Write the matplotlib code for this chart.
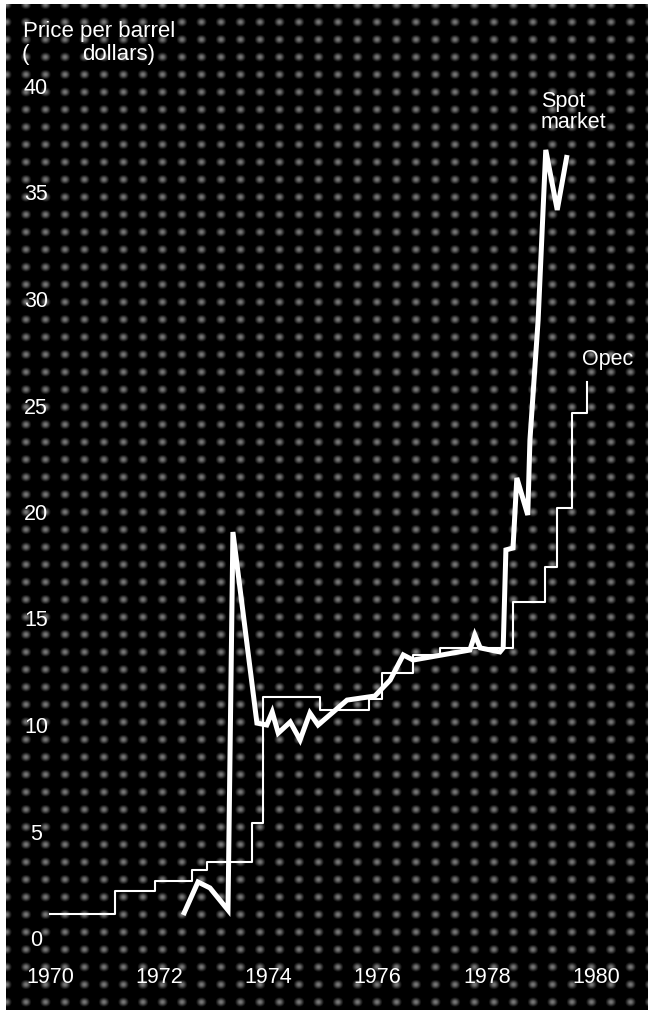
import numpy as np
import matplotlib
matplotlib.use("Agg")
import matplotlib.pyplot as plt

# ---- data ----
opec_years = [1970.0, 1971.19, 1971.92, 1972.60, 1972.88, 1973.70, 1973.90,
              1974.95, 1975.85, 1976.08, 1976.65, 1977.14, 1978.48, 1979.07,
              1979.29, 1979.56, 1979.84]
opec_price = [1.13, 2.21, 2.68, 3.19, 3.57, 5.40, 11.31,
              10.7, 11.2, 12.44, 13.3, 13.6, 15.77, 17.4,
              20.19, 24.65, 26.1]

spot_years = [1972.44, 1972.71, 1972.93, 1973.26, 1973.35, 1973.79, 1973.97,
              1974.07, 1974.18, 1974.40, 1974.58, 1974.76, 1974.91, 1975.44,
              1975.95, 1976.23, 1976.47, 1976.65, 1977.69, 1977.78, 1977.88,
              1978.24, 1978.30, 1978.35, 1978.48, 1978.55, 1978.75, 1978.79,
              1978.94, 1979.08, 1979.29, 1979.47]
spot_price = [1.08, 2.63, 2.35, 1.31, 19.06, 10.09, 10.0,
              10.61, 9.62, 10.14, 9.30, 10.56, 10.0, 11.17,
              11.36, 12.11, 13.29, 13.05, 13.52, 14.23, 13.62,
              13.43, 13.62, 18.22, 18.31, 21.6, 19.86, 23.38,
              29.01, 37.0, 34.18, 36.76]

x_ticks = [1970, 1972, 1974, 1976, 1978, 1980]
x_tick_labels = ["1970", "1972", "1974", "1976", "1978", "1980"]
y_ticks = [0, 5, 10, 15, 20, 25, 30, 35, 40]
y_tick_labels = ["0", "5", "10", "15", "20", "25", "30", "35", "40"]

FONT = ["Liberation Sans", "DejaVu Sans"]
W, H = 648, 1010
fig = plt.figure(figsize=(W / 100, H / 100), dpi=100, facecolor="white")
ax = fig.add_axes([6 / W, 0, (W - 6) / W, (H - 4) / H])
ax.set_facecolor("black")

XL = (1970 + (6 - 50) / 54.6, 1970 + (648 - 50) / 54.6)
YL = ((938 - 1010) / 21.3, (938 - 4) / 21.3)

# decorative halftone-like background texture
xx = np.arange(W - 6)[None, :]
yy = np.arange(H - 4)[:, None]
bx = ((np.cos(2 * np.pi * xx / 19.5) + 1) / 2) ** 2
by = ((np.cos(2 * np.pi * yy / 17.5) + 1) / 2) ** 2
tex = np.clip(0.55 * bx * by - 0.08, 0, 1)
ax.imshow(tex, cmap="gray", vmin=0, vmax=1, aspect="auto",
          extent=[XL[0], XL[1], YL[0], YL[1]],
          origin="upper", zorder=0, interpolation="nearest")
ax.set_xlim(*XL)
ax.set_ylim(*YL)

ax.plot(opec_years, opec_price, drawstyle="steps-post", color="white",
        lw=1.5, zorder=3)
ax.plot(spot_years, spot_price, color="white", lw=3.6, zorder=4,
        solid_joinstyle="miter", solid_capstyle="butt")

for s in ax.spines.values():
    s.set_visible(False)

ax.set_xticks(x_ticks)
ax.set_xticklabels(x_tick_labels)
ax.set_yticks(y_ticks)
ax.set_yticklabels(y_tick_labels)
ax.tick_params(axis="both", length=0, colors="white", labelsize=15.5)
ax.tick_params(axis="y", pad=-30 / 1.389)
ax.tick_params(axis="x", pad=-33 / 1.389)
for lab in ax.get_yticklabels():
    lab.set_horizontalalignment("center")
    lab.set_family(FONT)
for lab in ax.get_xticklabels():
    lab.set_verticalalignment("center")
    lab.set_family(FONT)

def px_t(x):
    return 1970 + (x - 50) / 54.6

def px_v(y):
    return (938 - y) / 21.3

txt = dict(color="white", fontsize=15.5, family=FONT, va="baseline", ha="left", zorder=5)
ax.text(px_t(23), px_v(37), "Price per barrel", **{**txt, "fontsize": 16})
ax.text(px_t(22), px_v(60), "(", **{**txt, "fontsize": 16})
ax.text(px_t(82), px_v(60), "dollars)", **{**txt, "fontsize": 16})
ax.text(px_t(541), px_v(107), "Spot", **txt)
ax.text(px_t(541), px_v(128), "market", **txt)
ax.text(px_t(582), px_v(365), "Opec", **txt)

fig.savefig("out.png", dpi=100, facecolor="white")
